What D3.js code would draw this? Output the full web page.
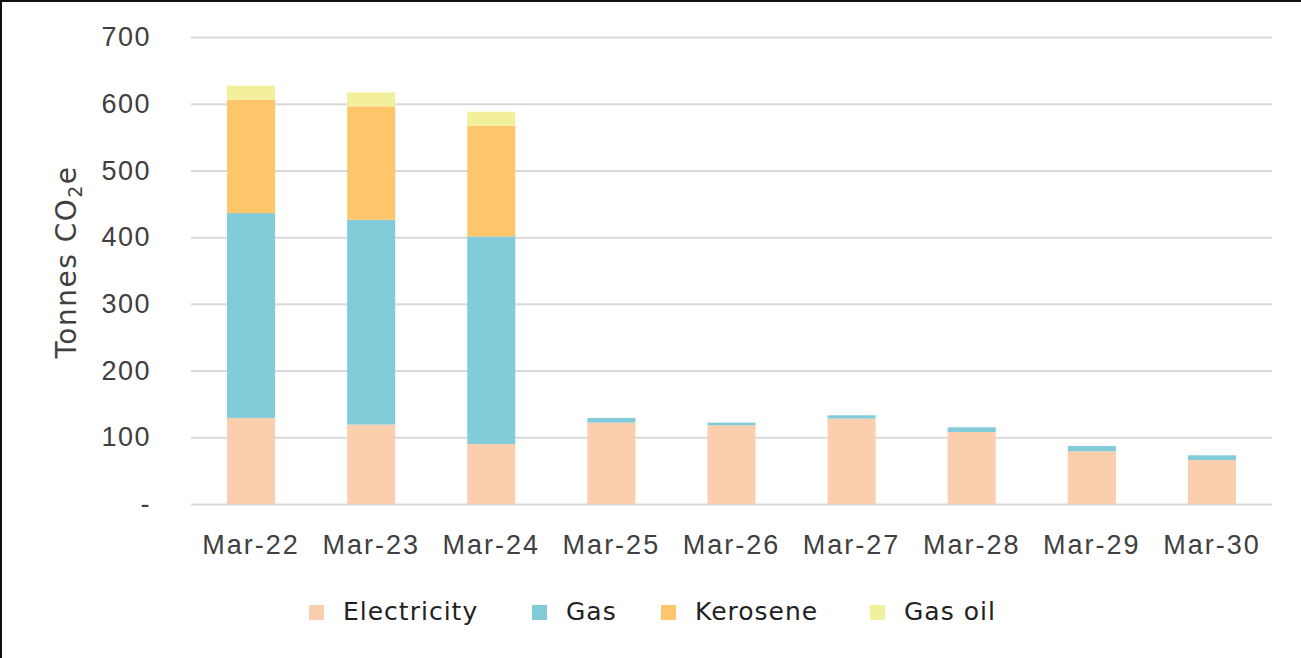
<!DOCTYPE html>
<html>
<head>
<meta charset="utf-8">
<script src="https://cdn.jsdelivr.net/npm/d3@7"></script>
<style>
  body { margin: 0; background: #fff; }
  svg { display: block; font-family: "DejaVu Sans", sans-serif; }
</style>
</head>
<body>
<div id="chart"></div>
<script>
// chart data
const categories = ['Mar-22', 'Mar-23', 'Mar-24', 'Mar-25', 'Mar-26', 'Mar-27', 'Mar-28', 'Mar-29', 'Mar-30'];
const electricity = [129, 119, 90, 122, 118, 128, 108, 79, 66];
const gas = [307, 307, 311, 7, 4, 5, 7, 8, 7];
const kerosene = [170, 170, 166, 0, 0, 0, 0, 0, 0];
const gasOil = [21, 21, 21, 0, 0, 0, 0, 0, 0];
const seriesNames = ['Electricity', 'Gas', 'Kerosene', 'Gas oil'];
const yTicks = [0, 100, 200, 300, 400, 500, 600, 700];

const colors = ['#fbcfad', '#82cbd8', '#fec66a', '#f2f09a'];

const width = 1301, height = 658;
const margin = {top: 37, right: 29, bottom: 154, left: 191};

const rows = categories.map((c, i) => ({
  cat: c, Electricity: electricity[i], Gas: gas[i], Kerosene: kerosene[i], 'Gas oil': gasOil[i]
}));
const stacked = d3.stack().keys(seriesNames)(rows);

const svg = d3.select('#chart').append('svg')
  .attr('width', width)
  .attr('height', height);

// frame (top and left edges)
svg.append('path')
  .attr('d', `M1,${height} L1,1 L${width},1`)
  .attr('fill', 'none')
  .attr('stroke', '#111')
  .attr('stroke-width', 2);

const x = d3.scaleBand()
  .domain(categories)
  .range([margin.left, width - margin.right])
  .paddingInner(0.6)
  .paddingOuter(0.3);
const y = d3.scaleLinear()
  .domain([0, 700])
  .range([height - margin.bottom, margin.top]);

// grid lines + y labels
const yAxis = g => g
  .attr('transform', `translate(${margin.left},0)`)
  .call(d3.axisLeft(y).tickValues(yTicks).tickSize(-(width - margin.right - margin.left))
    .tickFormat(d => d === 0 ? '-' : d))
  .call(g => g.select('.domain').remove())
  .call(g => g.selectAll('.tick line').attr('stroke', '#d9d9d9').attr('stroke-width', 2))
  .call(g => g.selectAll('.tick text')
    .attr('x', -40)
    .attr('fill', '#404040')
    .style('font-size', '27px')
    .style('letter-spacing', '1.5px'));
svg.append('g').call(yAxis);

// stacked bars
svg.append('g').selectAll('g').data(stacked).enter()
  .append('g')
    .attr('fill', (d, i) => colors[i])
  .selectAll('rect').data(d => d.filter(p => p[1] > p[0])).enter()
  .append('rect')
    .attr('x', d => x(d.data.cat))
    .attr('y', d => y(d[1]))
    .attr('height', d => y(d[0]) - y(d[1]))
    .attr('width', x.bandwidth());

// x labels
const xAxis = g => g
  .attr('transform', `translate(0,${height - margin.bottom})`)
  .call(d3.axisBottom(x).tickSize(0).tickPadding(31))
  .call(g => g.select('.domain').remove())
  .call(g => g.selectAll('.tick text')
    .attr('fill', '#404040')
    .style('font-size', '27px')
    .style('letter-spacing', '2px'));
svg.append('g').call(xAxis);

// y axis title
const title = svg.append('text')
  .attr('transform', `translate(76,262) rotate(-90)`)
  .attr('text-anchor', 'middle')
  .attr('fill', '#404040')
  .style('font-size', '28px')
  .style('letter-spacing', '1.5px');
title.append('tspan').text('Tonnes CO');
title.append('tspan').text('2').attr('dy', 6).style('font-size', '19px');
title.append('tspan').text('e').attr('dy', -6);

// legend
const legendX = [343, 566, 695, 904];
const legend = svg.append('g').selectAll('g').data(seriesNames).enter()
  .append('g')
    .attr('transform', (d, i) => `translate(${legendX[i]},611)`);
legend.append('rect')
  .attr('x', -34).attr('y', -6)
  .attr('width', 15).attr('height', 15)
  .attr('fill', (d, i) => colors[i]);
legend.append('text')
  .attr('x', 0)
  .attr('dy', '0.35em')
  .attr('fill', '#222')
  .style('font-size', '25px')
  .style('letter-spacing', '1px')
  .text(d => d);
</script>
</body>
</html>
